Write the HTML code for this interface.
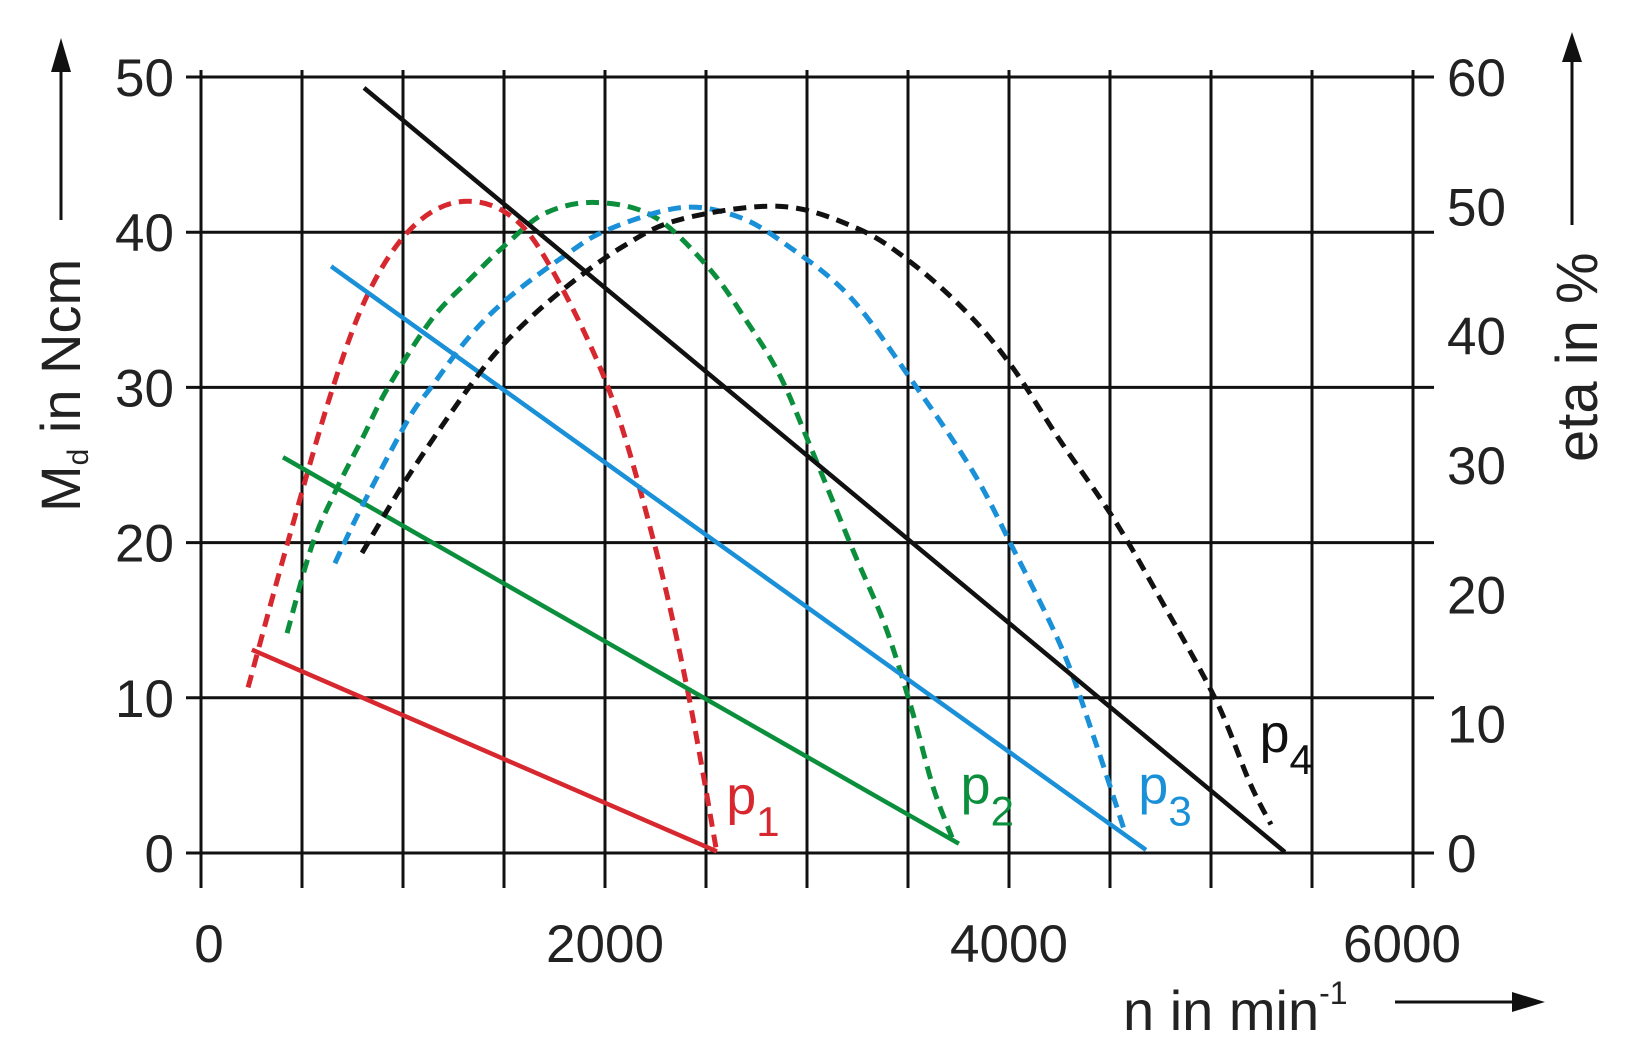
<!DOCTYPE html>
<html><head><meta charset="utf-8"><style>
html,body{margin:0;padding:0;background:#fff}
svg{display:block}
text{font-family:"Liberation Sans",sans-serif;fill:#222}
</style></head><body>
<svg id="chart" width="1639" height="1063" viewBox="0 0 1639 1063" xmlns="http://www.w3.org/2000/svg">
<g id="grid"></g>
<g id="ticks"></g>
<g id="series"></g>
<g>
<text x="1123" y="1030" font-size="56">n in min<tspan font-size="32" dy="-26">-1</tspan></text>
<line x1="1395" y1="1002" x2="1515" y2="1002" stroke="#111" stroke-width="3"/>
<polygon points="1545,1002 1512,992 1512,1012" fill="#111"/>
</g>
<g>
<text transform="translate(80,512) rotate(-90)" font-size="56">M<tspan font-size="30" dy="8">d</tspan><tspan dy="-8"> in Ncm</tspan></text>
<line x1="61" y1="220" x2="61" y2="70" stroke="#111" stroke-width="3"/>
<polygon points="61,38 51,72 71,72" fill="#111"/>
</g>
<g>
<text transform="translate(1597,462) rotate(-90)" font-size="58">eta in %</text>
<line x1="1572" y1="225" x2="1572" y2="62" stroke="#111" stroke-width="3"/>
<polygon points="1572,32 1562,62 1582,62" fill="#111"/>
</g>
</svg>
<script>
const xTicks=[0,2000,4000,6000];
const mTicks=[0,10,20,30,40,50];
const eTicks=[0,10,20,30,40,50,60];
const seriesNames=["p1","p2","p3","p4"];
const seriesColors=["#d6282e","#0b8f3d","#1a90d8","#111111"];
// torque lines: [n start, Md start, n end, Md end]
const torqueP1=[252,13.1,2554,0.1];
const torqueP2=[406,25.5,3752,0.6];
const torqueP3=[644,37.8,4678,0.2];
const torqueP4=[807,49.3,5366,0.06];
// efficiency curves (n, eta)
const etaP1N=[233,431,653,832,1035,1260,1500,1708,2015,2243,2411,2554];
const etaP1V=[12.8,24.1,36,43.4,48.2,50.3,49.6,45.9,36,24,12.4,0];
const etaP2N=[426,550,673,797,926,1139,1327,1520,1708,1955,2243,2510,2698,2866,3020,3228,3386,3515,3624,3718];
const etaP2V=[17,23.8,28.2,32,36,41.2,44.3,47.2,49.5,50.3,49.2,45.3,41.2,36.9,31.3,23.4,17.6,11.3,5.1,1.2];
const etaP3N=[663,797,1025,1139,1327,1520,1802,2015,2376,2658,2900,3213,3520,3817,4015,4262,4421,4574];
const etaP3V=[22.4,26.8,33.5,36,39.9,42.9,46.2,48.2,49.9,49.2,47.0,43.0,36.5,29.6,23.7,15.8,8.9,1.6];
const etaP4N=[797,1025,1327,1520,1787,2089,2376,2866,3248,3520,3797,4015,4248,4520,4762,5025,5193,5297];
const etaP4V=[23.2,29.1,36,39.7,43.5,46.9,49,50,48.3,45.6,41.7,37.6,32,25.8,19.3,11.8,5.4,2.2];
const labelPos=[[2600,2.5],[3760,3.2],[4640,3.2],[5240,6.5]];

const X=n=>201+n*(1413-201)/6000;
const YM=m=>853-m*(853-77)/50;
const YE=e=>853-e*(853-77)/60;
const NS="http://www.w3.org/2000/svg";
function mk(tag,attrs,parent){const e=document.createElementNS(NS,tag);for(const k in attrs)e.setAttribute(k,attrs[k]);parent.appendChild(e);return e;}
const grid=document.getElementById('grid'),ticks=document.getElementById('ticks'),ser=document.getElementById('series');
for(let n=0;n<=6000;n+=500){
  const l=mk('line',{x1:X(n),x2:X(n),y1:70,y2:888,stroke:'#111','stroke-width':3},grid);
  
  
}
mTicks.forEach(m=>{
  const l=mk('line',{x1:186,x2:1434,y1:YM(m),y2:YM(m),stroke:'#111','stroke-width':3},grid);
  
  
  const t=mk('text',{x:174,y:YM(m)+19,'font-size':53,'text-anchor':'end'},ticks);
  t.textContent=m;
  
  
});
eTicks.forEach(e=>{
  const t=mk('text',{x:1447,y:YE(e)+19,'font-size':53},ticks);
  t.textContent=e;
  
  
});
xTicks.forEach((n,i)=>{
  const t=mk('text',{x:X(n)+(i==0?8:(i==3?-11:0)),y:962,'font-size':53,'text-anchor':'middle'},ticks);
  t.textContent=n;
  
  
});
function smooth(pts){
  let d='M'+pts[0][0]+','+pts[0][1];
  for(let i=0;i<pts.length-1;i++){
    const p0=pts[Math.max(0,i-1)],p1=pts[i],p2=pts[i+1],p3=pts[Math.min(pts.length-1,i+2)];
    const c1=[p1[0]+(p2[0]-p0[0])/6,p1[1]+(p2[1]-p0[1])/6];
    const c2=[p2[0]-(p3[0]-p1[0])/6,p2[1]-(p3[1]-p1[1])/6];
    d+=' C'+c1[0]+','+c1[1]+' '+c2[0]+','+c2[1]+' '+p2[0]+','+p2[1];
  }
  return d;
}
const torques=[torqueP1,torqueP2,torqueP3,torqueP4];
const etaN=[etaP1N,etaP2N,etaP3N,etaP4N];
const etaV=[etaP1V,etaP2V,etaP3V,etaP4V];
for(let s=0;s<4;s++){
  const c=seriesColors[s];
  const pts=etaN[s].map((n,i)=>[X(n),YE(etaV[s][i])]);
  const p=mk('path',{d:smooth(pts),fill:'none',stroke:c,'stroke-width':5,'stroke-dasharray':'13 8'},ser);
  
  
  const t=torques[s];
  const l=mk('line',{x1:X(t[0]),y1:YM(t[1]),x2:X(t[2]),y2:YM(t[3]),stroke:c,'stroke-width':4.5},ser);
  
  
  const lb=mk('text',{x:X(labelPos[s][0]),y:YM(labelPos[s][1]),'font-size':54,fill:c,style:'fill:'+c},ser);
  
  
  lb.appendChild(document.createTextNode('p'));
  const sub=mk('tspan',{'font-size':42,dy:22},lb);
  sub.textContent=String(s+1);
}
</script>
</body></html>
